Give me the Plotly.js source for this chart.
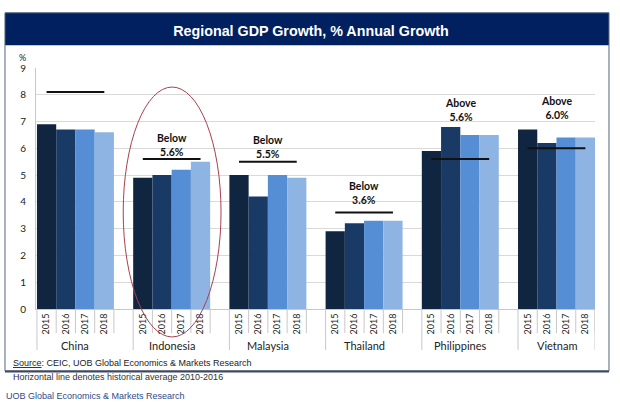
<!DOCTYPE html>
<html>
<head>
<meta charset="utf-8">
<script src="https://cdn.plot.ly/plotly-3.0.1.min.js"></script>
<style>
  html, body { margin: 0; padding: 0; background: #ffffff; }
  #chart { width: 620px; height: 413px; }
</style>
</head>
<body>
<div id="chart"></div>
<script>
// Regional GDP growth (% y/y) by country and year
const countries = ["China", "Indonesia", "Malaysia", "Thailand", "Philippines", "Vietnam"];
const years = ["2015", "2016", "2017", "2018"];
const growth2015 = [6.9, 4.9, 5.0, 2.9, 5.9, 6.7];
const growth2016 = [6.7, 5.0, 4.2, 3.2, 6.8, 6.2];
const growth2017 = [6.7, 5.2, 5.0, 3.3, 6.5, 6.4];
const growth2018 = [6.6, 5.5, 4.9, 3.3, 6.5, 6.4];
// historical average 2010-2016
const historicalAvg = [8.1, 5.6, 5.5, 3.6, 5.6, 6.0];
const avgWording = ["", "Below", "Below", "Below", "Above", "Above"];

const seriesValues = [growth2015, growth2016, growth2017, growth2018];
const seriesColors = ["#10253f", "#1a3a66", "#558ed5", "#8eb4e3"];

// each country occupies 4 bar slots plus one empty slot
const slotsPerGroup = years.length + 1;
const pos = (g, k) => g * slotsPerGroup + k;

const traces = [];
seriesValues.forEach((vals, k) => {
  traces.push({
    type: "bar",
    x: countries.map((c, g) => pos(g, k)),
    y: vals,
    width: 1,
    marker: { color: seriesColors[k], line: { width: 0 } },
    name: years[k],
    hoverinfo: "skip"
  });
});

// historical average lines spanning the first to the last bar of each group
const avgX = [], avgY = [];
historicalAvg.forEach((v, g) => {
  avgX.push(pos(g, 0), pos(g, years.length - 1), null);
  avgY.push(v, v, null);
});
traces.push({
  type: "scatter",
  mode: "lines",
  x: avgX,
  y: avgY,
  line: { color: "#111111", width: 2 },
  hoverinfo: "skip"
});

const tickVals = [], tickText = [];
countries.forEach((c, g) => years.forEach((y, k) => { tickVals.push(pos(g, k)); tickText.push(y); }));

const font = "Lato, 'Open Sans', sans-serif";
const sans = "'Liberation Sans', Arial, sans-serif";
const sepColor = "#c8c8c8";

const shapes = [];
// header band and outer frame
shapes.push({ type: "rect", xref: "paper", yref: "paper", x0: -0.0555, x1: 1.025, y0: 1.094, y1: 1.229,
  fillcolor: "#002060", line: { width: 0 }, layer: "below" });
shapes.push({ type: "rect", xref: "paper", yref: "paper", x0: -0.0555, x1: 1.025, y0: -0.257, y1: 1.229,
  line: { color: "#55657d", width: 1 }, layer: "below" });
shapes.push({ type: "line", xref: "paper", yref: "paper", x0: -0.0555, x1: 1.025, y0: -0.259, y1: -0.259,
  line: { color: "#3c4a60", width: 2 } });
// category separators below the axis
countries.forEach((c, g) => {
  for (let k = 0; k <= years.length; k++) {
    const xx = pos(g, k) - 0.5;
    shapes.push({ type: "line", xref: "x", yref: "paper", x0: xx, x1: xx, y0: 0,
      y1: k === 0 ? -0.17 : -0.1, line: { color: sepColor, width: 1 } });
  }
});
shapes.push({ type: "line", xref: "x", yref: "paper", x0: pos(countries.length - 1, years.length) - 0.5,
  x1: pos(countries.length - 1, years.length) - 0.5, y0: 0, y1: -0.17, line: { color: sepColor, width: 1 } });
// highlight ring around Indonesia
shapes.push({ type: "circle", xref: "paper", yref: "paper", x0: 0.156, x1: 0.331, y0: -0.116, y1: 0.921,
  line: { color: "#a8404f", width: 1 } });

// vertical offset (px) of each "Below/Above" note over its tallest mark
const noteShift = [0, -1, 0, 5, 2, 7];

const annotations = [];
countries.forEach((c, g) => {
  const center = (pos(g, 0) + pos(g, years.length - 1)) / 2;
  annotations.push({ x: center, y: -0.151, xref: "x", yref: "paper", text: c, showarrow: false,
    font: { family: font, size: 11, color: "#222222" }, yanchor: "middle" });
  if (avgWording[g]) {
    const top = Math.max(historicalAvg[g], ...seriesValues.map(s => s[g]));
    annotations.push({ x: center, y: top, xref: "x", yref: "y", yanchor: "bottom", yshift: noteShift[g],
      text: "<b>" + avgWording[g] + "<br>" + historicalAvg[g].toFixed(1) + "%</b>", showarrow: false,
      font: { family: font, size: 10.5, color: "#111111" }, align: "center" });
  }
});
annotations.push({ x: -0.025, y: 1.045, xref: "paper", yref: "paper", text: "%", showarrow: false,
  font: { family: font, size: 9, color: "#222222" }, xanchor: "center", yanchor: "middle" });
annotations.push({ x: -0.044, y: -0.224, xref: "paper", yref: "paper", xanchor: "left", yanchor: "middle",
  text: "<u>Source</u>: CEIC, UOB Global Economics & Markets Research", showarrow: false,
  font: { family: sans, size: 9, color: "#222222" } });
annotations.push({ x: -0.044, y: -0.282, xref: "paper", yref: "paper", xanchor: "left", yanchor: "middle",
  text: "Horizontal line denotes historical average 2010-2016", showarrow: false,
  font: { family: sans, size: 9, color: "#333333" } });
annotations.push({ x: -0.057, y: -0.361, xref: "paper", yref: "paper", xanchor: "left", yanchor: "middle",
  text: "UOB Global Economics & Markets Research", showarrow: false,
  font: { family: sans, size: 9, color: "#2b4b8c" } });

const layout = {
  width: 620,
  height: 413,
  margin: { l: 36, r: 25, t: 68, b: 104 },
  paper_bgcolor: "#ffffff",
  plot_bgcolor: "#ffffff",
  showlegend: false,
  barmode: "overlay",
  title: {
    text: "<b>Regional GDP Growth, % Annual Growth</b>",
    x: 0.492, xanchor: "center", xref: "paper",
    y: 0.926, yanchor: "middle", yref: "container",
    font: { family: sans, size: 14.3, color: "#ffffff" }
  },
  xaxis: {
    range: [-0.55, 28.5],
    tickmode: "array",
    tickvals: tickVals,
    ticktext: tickText,
    tickangle: -90,
    tickfont: { family: font, size: 9, color: "#222222" },
    showgrid: false,
    zeroline: false,
    showline: true,
    linecolor: "#c8c8c8",
    ticks: ""
  },
  yaxis: {
    range: [0, 9],
    dtick: 1,
    tick0: 0,
    tickfont: { family: font, size: 10, color: "#222222" },
    gridcolor: "#d9d9d9",
    zeroline: false,
    showline: true,
    linecolor: "#c8c8c8",
    ticks: "",
    ticklabelstandoff: 7
  },
  shapes: shapes,
  annotations: annotations
};

Plotly.newPlot("chart", traces, layout, { displayModeBar: false, staticPlot: true });
</script>
</body>
</html>
